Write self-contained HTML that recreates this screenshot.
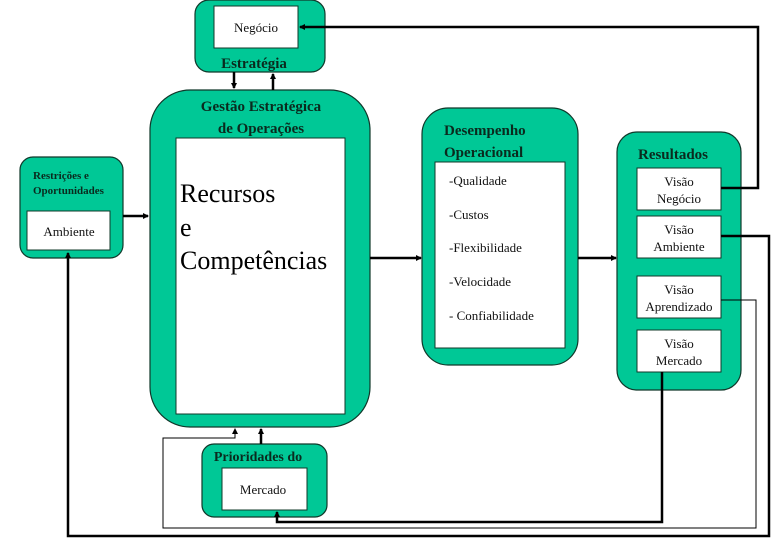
<!DOCTYPE html>
<html><head><meta charset="utf-8"><style>
body{margin:0;background:#fff}
svg{display:block}
text{font-family:"Liberation Serif",serif}
.g{fill:#00c896;stroke:#10382a;stroke-width:1.2}
.w{fill:#fff;stroke:#10382a;stroke-width:1}
.h{font-weight:bold;fill:#0a2a1e;font-size:15px}
.t{font-size:13px;fill:#111}
.L{fill:none;stroke:#000;stroke-width:2.5}
.l{fill:none;stroke:#000;stroke-width:1}
</style></head><body>
<svg width="780" height="540" viewBox="0 0 780 540">
<defs><marker id="a" markerWidth="6" markerHeight="6" refX="5" refY="3" orient="auto" markerUnits="userSpaceOnUse"><path d="M0,0L6,3L0,6z" fill="#000"/></marker></defs>
<!-- Negocio -->
<rect class="g" x="195" y="0" width="130" height="72" rx="14"/>
<rect class="w" x="214" y="6" width="84" height="42"/>
<text class="t" x="256" y="32" text-anchor="middle">Negócio</text>
<text class="h" x="254" y="68" text-anchor="middle">Estratégia</text>
<!-- Gestao -->
<rect class="g" x="150" y="90" width="220" height="337" rx="40"/>
<rect class="w" x="176" y="138" width="169" height="276"/>
<text class="h" x="261" y="111" text-anchor="middle">Gestão Estratégica</text>
<text class="h" x="261" y="133" text-anchor="middle">de Operações</text>
<text x="180" y="202" font-size="26">Recursos</text>
<text x="180" y="236" font-size="26"> e</text>
<text x="180" y="269" font-size="26">Competências</text>
<!-- Restricoes -->
<rect class="g" x="20" y="157" width="103" height="101" rx="13"/>
<rect class="w" x="27" y="211" width="83" height="39"/>
<text x="33" y="179" font-size="11" font-weight="bold" fill="#0a2a1e">Restrições e</text>
<text x="33" y="194" font-size="11" font-weight="bold" fill="#0a2a1e">Oportunidades</text>
<text class="t" x="69" y="236" text-anchor="middle">Ambiente</text>
<!-- Desempenho -->
<rect class="g" x="422" y="108" width="156" height="257" rx="26"/>
<rect class="w" x="435" y="162" width="130" height="186"/>
<text class="h" x="444" y="135">Desempenho</text>
<text class="h" x="444" y="157">Operacional</text>
<text class="t" x="449" y="185">-Qualidade</text>
<text class="t" x="449" y="219">-Custos</text>
<text class="t" x="449" y="252">-Flexibilidade</text>
<text class="t" x="449" y="286">-Velocidade</text>
<text class="t" x="449" y="320">- Confiabilidade</text>
<!-- Resultados -->
<rect class="g" x="617" y="132" width="124" height="258" rx="20"/>
<text class="h" x="673" y="159" text-anchor="middle">Resultados</text>
<rect class="w" x="637" y="168" width="84" height="42"/>
<text class="t" x="679" y="186" text-anchor="middle">Visão</text><text class="t" x="679" y="203" text-anchor="middle">Negócio</text>
<rect class="w" x="637" y="216" width="84" height="42"/>
<text class="t" x="679" y="234" text-anchor="middle">Visão</text><text class="t" x="679" y="251" text-anchor="middle">Ambiente</text>
<rect class="w" x="637" y="276" width="84" height="42"/>
<text class="t" x="679" y="294" text-anchor="middle">Visão</text><text class="t" x="679" y="311" text-anchor="middle">Aprendizado</text>
<rect class="w" x="637" y="330" width="84" height="42"/>
<text class="t" x="679" y="348" text-anchor="middle">Visão</text><text class="t" x="679" y="365" text-anchor="middle">Mercado</text>
<!-- Prioridades -->
<rect class="g" x="202" y="444" width="125" height="73" rx="12"/>
<rect class="w" x="222" y="468" width="85" height="42"/>
<text x="258" y="461" text-anchor="middle" font-size="14" font-weight="bold" fill="#0a2a1e">Prioridades do</text>
<text class="t" x="263" y="494" text-anchor="middle">Mercado</text>
<!-- connectors -->
<path class="L" d="M234,72V88" stroke-width="1.5" marker-end="url(#a)"/>
<path class="L" d="M273,90V74" stroke-width="1.5" marker-end="url(#a)"/>
<path class="L" d="M123,216H148" stroke-width="2" marker-end="url(#a)"/>
<path class="L" d="M370,258H421" stroke-width="2" marker-end="url(#a)"/>
<path class="L" d="M578,258H616" stroke-width="2" marker-end="url(#a)"/>
<path class="L" d="M261,444V429" stroke-width="2" marker-end="url(#a)"/>
<path class="L" d="M721,188H758V27H300" stroke-width="2" marker-end="url(#a)"/>
<path class="L" d="M721,236H769V536H68V253" stroke-width="2.5" marker-end="url(#a)"/>
<path class="L" d="M662,372V522H277V512" stroke-width="2" marker-end="url(#a)"/>
<path class="l" d="M721,300H756V528H163V438H235V429" marker-end="url(#a)"/>
</svg>
</body></html>
